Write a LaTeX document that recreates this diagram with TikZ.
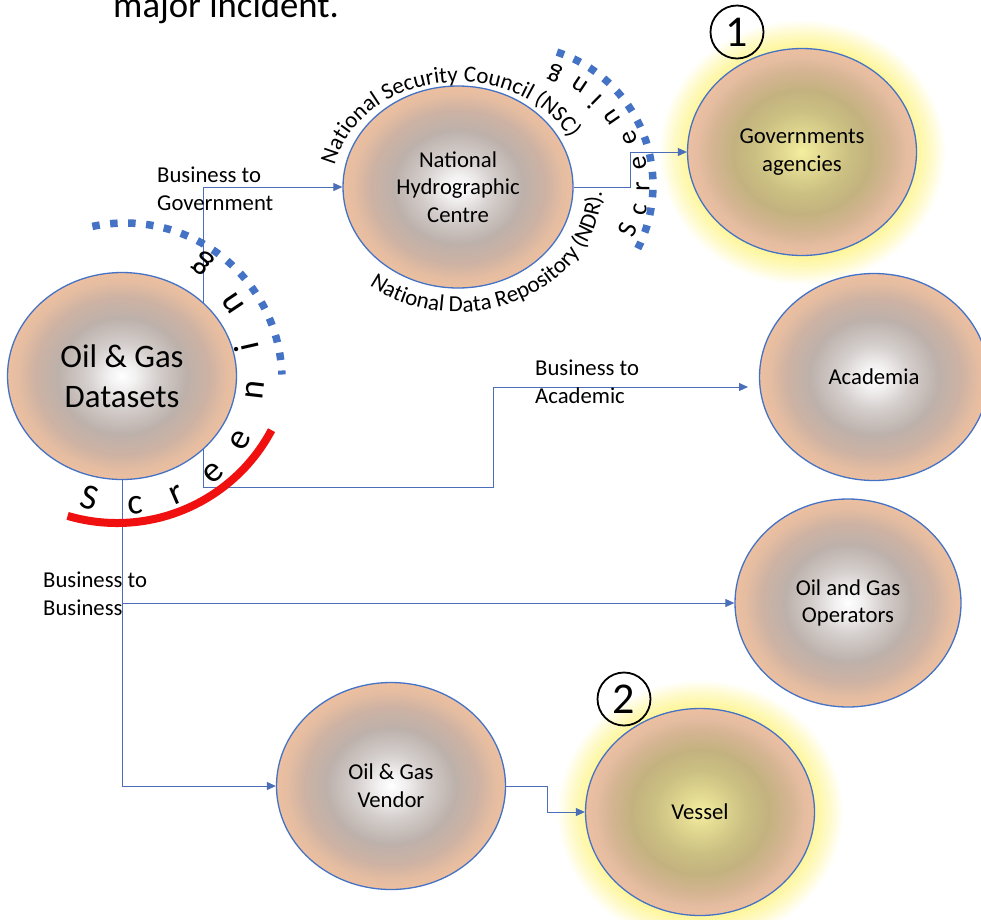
\documentclass[tikz,border=0pt]{standalone}
\usepackage{fontspec}
\setmainfont{Carlito}
\usetikzlibrary{shapes.geometric, arrows.meta, decorations.text, calc}

\definecolor{edgeblue}{HTML}{4472C4}
\definecolor{linkblue}{HTML}{4A6EB8}
\definecolor{screenred}{HTML}{F01010}
\definecolor{haloY}{HTML}{FEF69E}
% grey orb
\definecolor{gA}{HTML}{F2F0F0}
\definecolor{gB}{HTML}{D3CDCB}
\definecolor{gC}{HTML}{BDB1AB}
\definecolor{gD}{HTML}{CDB2A3}
\definecolor{gE}{HTML}{E6BDA1}
\definecolor{gF}{HTML}{ECBFA0}
% golden orb
\definecolor{yA}{HTML}{F4EFA0}
\definecolor{yB}{HTML}{E3DA92}
\definecolor{yC}{HTML}{CBC082}
\definecolor{yD}{HTML}{C3B27F}
\definecolor{yE}{HTML}{D6B594}

\pgfdeclareradialshading{orbgray}{\pgfpoint{0bp}{0bp}}{%
  color(0bp)=(white); color(3bp)=(gA); color(8bp)=(gB); color(14bp)=(gC);
  color(19bp)=(gD); color(23bp)=(gE); color(25bp)=(gF); color(50bp)=(gF)}
\pgfdeclareradialshading{orbgold}{\pgfpoint{0bp}{0bp}}{%
  color(0bp)=(yA); color(4bp)=(yB); color(10bp)=(yC); color(15bp)=(yD);
  color(20bp)=(yE); color(23bp)=(gE); color(25bp)=(gF); color(50bp)=(gF)}
\pgfdeclareradialshading{glow}{\pgfpoint{0bp}{0bp}}{%
  color(0bp)=(haloY); color(20bp)=(haloY); color(22.5bp)=(haloY!55!white);
  color(25bp)=(white); color(50bp)=(white)}

\pgfdeclarelayer{back}
\pgfsetlayers{back,main}

\begin{document}
\begin{tikzpicture}[x=1pt, y=1pt,
  orb/.style={ellipse, draw=edgeblue, line width=1.3pt, inner sep=0pt,
    minimum width=229pt, minimum height=207pt, shade, shading=orbgray,
    align=center, text=black, font=\fontsize{22.7}{27.7}\selectfont},
  hotorb/.style={orb, shading=orbgold},
  halo/.style={ellipse, draw=none, shade, shading=glow, inner sep=0pt,
    minimum width=287pt, minimum height=265pt},
  link/.style={draw=linkblue, line width=0.9pt},
  tolink/.style={link, -{Triangle[length=9pt,width=8pt]}},
  lbl/.style={align=left, anchor=west, inner sep=0pt, text=black,
    font=\fontsize{22.7}{27.7}\selectfont},
  numring/.style={circle, draw=black, line width=1.8pt, minimum size=53pt,
    inner sep=0pt, font=\fontsize{44}{50}\selectfont},
  screendots/.style={draw=edgeblue, line width=7.5pt, dash pattern=on 7.5pt off 10.5pt},
  bigletter/.style={inner sep=0pt, font=\fontsize{36}{40}\selectfont},
  smallletter/.style={inner sep=0pt, font=\fontsize{27}{30}\selectfont}
]
\useasboundingbox (0,0) rectangle (981,-919);

% heading line cut by the top edge
\node[anchor=base west, inner sep=0pt, font=\fontsize{36.7}{44}\selectfont] (head) at (113,-17) {major incident.};

% orbs
\node[orb, font=\fontsize{32.8}{40}\selectfont] (dat) at (122,-376) {Oil \& Gas\\Datasets};
\node[orb, minimum width=230pt, minimum height=202pt] (nhc) at (458,-187) {National\\Hydrographic\\Centre};
\node[hotorb] (gov) at (802,-152) {Governments\\agencies};
\node[orb] (aca) at (874,-377) {Academia};
\node[orb, minimum width=226pt, minimum height=208pt] (ope) at (848,-603) {Oil and Gas\\Operators};
\node[orb] (ven) at (391,-786) {Oil \& Gas\\Vendor};
\node[hotorb] (ves) at (700,-812) {Vessel};

% white page, yellow glow behind the highlighted orbs, then the flows
\begin{pgfonlayer}{back}
  \fill[white] (0,0) rectangle (981,-919);
  \node[halo] (govglow) at (gov.center) {};
  \node[halo] (vesglow) at (ves.center) {};

  \coordinate (gvJ) at (203,-487);
  \coordinate (acaIn) at (748,-387);
  \draw[tolink] (gvJ) |- (nhc.west);
  \draw[tolink] (gvJ) -- (493,-487) |- (acaIn);
  \draw[tolink] (dat.south) |- (ope.west);
  \draw[tolink] (dat.south) |- (ven.west);
  \draw[tolink] (nhc.east) -- ++(57,0) |- (gov.west);
  \draw[tolink] (ven.east) -- ++(41,0) |- (ves.west);
\end{pgfonlayer}

% flow labels
\node[lbl] (lgov) at (157,-188.5) {Business to\\Government};
\node[lbl] (laca) at (535,-381.5) {Business to\\Academic};
\node[lbl] (lbiz) at (43,-593.5) {Business to\\Business};

% screening marks around the datasets
\coordinate (scrL) at (125,-380);
\draw[screendots] ($(scrL)+(102:157)$) arc[start angle=102, end angle=2, radius=157];
\coordinate (redC) at (117,-348);
\draw[screenred, line width=8pt] ($(redC)+(-106.4:175)$) arc[start angle=-106.4, end angle=-28, radius=175];
\foreach \px/\py/\rot/\ch [count=\k] in {90/498/-16/S, 135/505/4.4/c, 177/495/23.4/r,
    213/473/42/e, 240/440/60.5/e, 255/390/83.4/n, 247/347/102.9/i, 233/303/123.7/n,
    203/263/145.1/g}
  \node[bigletter, rotate=\rot] (sl\k) at (\px,-\py) {\ch};

% screening marks before the government agencies
\coordinate (scrR) at (513,-185);
\draw[screendots] ($(scrR)+(71.7:140)$) arc[start angle=71.7, end angle=-27, radius=140];
\foreach \px/\py/\rot/\ch [count=\k] in {628/230/68.6/S, 640/210/78.9/c, 643/187/89.1/r,
    640/163/99.8/e, 630/138/111.9/e, 612/117/124.5/n, 595/102/135.3/i, 580/85/146.2/n,
    555/73/159.4/g}
  \node[smallletter, rotate=\rot] (sr\k) at (\px,-\py) {\ch};

% curved captions around the hydrographic centre
\path[decorate, decoration={text along path, text align=left,
    text={|\fontsize{23}{28}\selectfont|National Security Council (NSC)}}]
  ($(nhc.center)+({126*cos(168)},{105*sin(168)})$)
  arc[start angle=168, end angle=5, x radius=126, y radius=105];
\path[decorate, decoration={text along path, text align=left,
    text={|\fontsize{23}{28}\selectfont|National Data Repository (NDR).}}]
  ($(nhc.center)+({144*cos(232)},{125*sin(232)})$)
  arc[start angle=232, end angle=375, x radius=144, y radius=125];

% numbered markers
\node[numring] (n1) at (737,-32) {1};
\node[numring] (n2) at (624,-699) {2};
\end{tikzpicture}
\end{document}
